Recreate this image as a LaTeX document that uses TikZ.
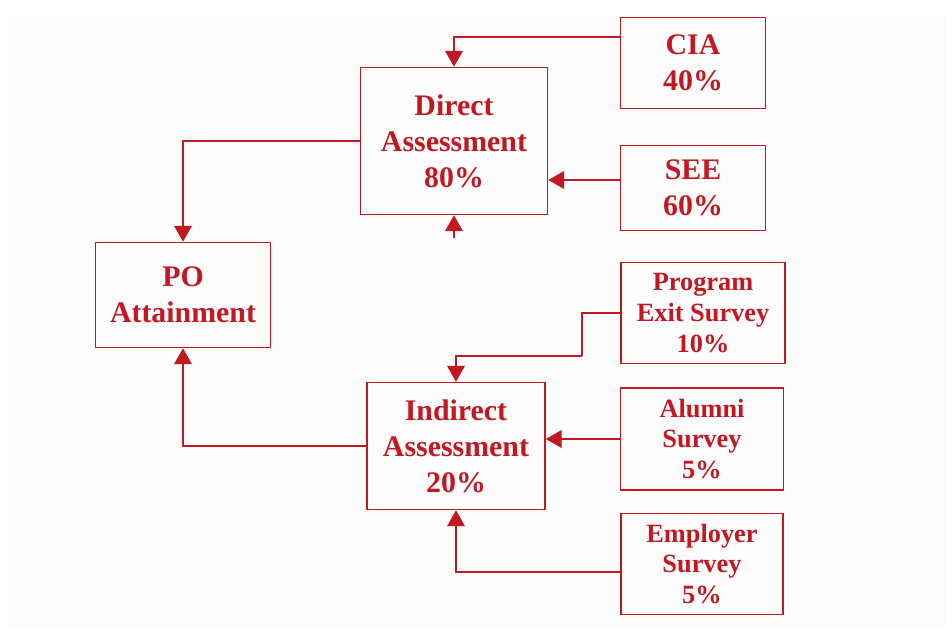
\documentclass[tikz,border=0pt]{standalone}
\usepackage{fontspec}
\setmainfont{Liberation Serif}
\usepackage{tikz}
\usetikzlibrary{arrows,arrows.meta}

\definecolor{dred}{RGB}{194,24,34}
\definecolor{bggray}{RGB}{252,252,252}

\begin{document}
\begin{tikzpicture}[
x=0.02cm, y=-0.02cm,
box/.style={draw=dred, line width=0.9pt, text=dred, align=center, inner sep=2pt, font=\bfseries\fontsize{17}{20.4}\selectfont},
smallbox/.style={box, font=\bfseries\fontsize{15}{17.6}\selectfont},
arrow/.style={-{Triangle[length=9pt,width=10pt]}, draw=dred, line width=0.9pt} ]

\useasboundingbox (0,0) rectangle (952,631);
\fill[bggray] (9,15) rectangle (946,626);

\node[box, minimum width=3.74cm, minimum height=2.94cm](direct) at (454,141) {Direct\\Assessment\\80\%};

\node[box, minimum width=2.9cm, minimum height=1.82cm](cia) at (693,63) {CIA\\40\%};

\node[box, minimum width=2.9cm, minimum height=1.7cm](see) at (693,188) {SEE\\60\%};

\node[box, minimum width=3.5cm, minimum height=2.1cm](po) at (183,295) {PO\\Attainment};

\node[smallbox, minimum width=3.28cm, minimum height=2.02cm](prog) at (703,313) {Program\\Exit Survey\\10\%};

\node[box, minimum width=3.56cm, minimum height=2.54cm](indirect) at (456,446) {Indirect\\Assessment\\20\%};

\node[smallbox, minimum width=3.26cm, minimum height=2.04cm](alumni) at (702,439) {Alumni\\Survey\\5\%};

\node[smallbox, minimum width=3.24cm, minimum height=2.02cm](employer) at (702,564) {Employer\\Survey\\5\%};

\coordinate (stub) at (454,238);
\coordinate (bend) at (582,356);

\draw[arrow] ([yshift=0.52cm]cia.west) -| (direct.north);

\draw[arrow] ([yshift=0.16cm]see.west) -- ([yshift=0.16cm]see.west -| direct.east);

\draw[arrow] (direct.west) -| (po.north);

\draw[arrow] (stub) -- (direct.south);

\draw[dred, line width=0.9pt] (prog.west) -| (bend);

\draw[arrow] (bend) -| (indirect.north);

\draw[arrow] (alumni.west) -- (alumni.west -| indirect.east);

\draw[arrow] ([yshift=-0.16cm]employer.west) -| (indirect.south);

\draw[arrow] (indirect.west) -| (po.south);
\end{tikzpicture}
\end{document}
